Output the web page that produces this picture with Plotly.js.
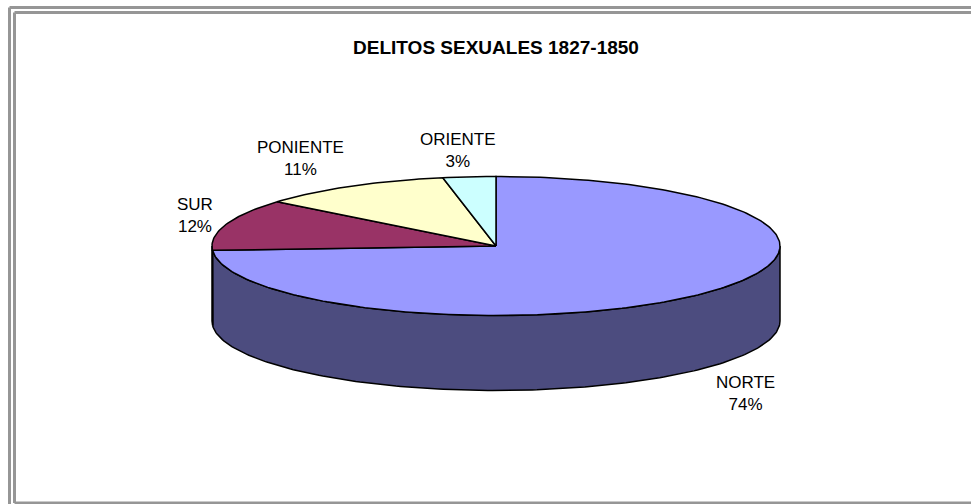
<!DOCTYPE html>
<html>
<head>
<meta charset="utf-8">
<script src="https://cdn.plot.ly/plotly-3.0.1.min.js"></script>
<style>html,body{margin:0;padding:0;background:#fff;}#chart{width:971px;height:504px;}</style>
</head>
<body>
<div id="chart"></div>
<script>
// ---- data ----
const categories = ["NORTE", "SUR", "PONIENTE", "ORIENTE"];
const values = [74, 12, 11, 3];
const chartTitle = "DELITOS SEXUALES 1827-1850";

// ---- styles / layout ----
const topColors = ["#9999FF", "#993366", "#FFFFCC", "#CCFFFF"];
const sideColors = ["#4C4C7F", "#4C1933", "#80805F", "#5F8080"];
const labelX = [745, 195, 300, 458];
const labelY = [393, 215, 158, 150];
const W = 971, H = 504;
const cx = 496, cy = 246, rx = 284, ry = 69.5, depth = 75;

const total = values.reduce((a, b) => a + b, 0);
function pt(tDeg, dy) {
  const t = tDeg * Math.PI / 180;
  return [cx + rx * Math.sin(t), cy - ry * Math.cos(t) + (dy || 0)];
}
function arc(a, b, dy) {
  const n = Math.max(2, Math.ceil(Math.abs(b - a) / 1));
  const xs = [], ys = [];
  for (let i = 0; i <= n; i++) {
    const p = pt(a + (b - a) * i / n, dy);
    xs.push(p[0]); ys.push(p[1]);
  }
  return [xs, ys];
}

const sideTraces = [], topTraces = [];
let start = 0;
values.forEach((v, i) => {
  const span = v / total * 360;
  const s = start, e = start + span;
  start = e;
  // visible front side (t between 90 and 270)
  const a = Math.max(s, 90), b = Math.min(e, 270);
  if (b > a) {
    const top = arc(a, b, 0);
    const bot = arc(b, a, depth);
    sideTraces.push({
      type: "scatter", mode: "lines", fill: "toself",
      x: top[0].concat(bot[0]).concat([top[0][0]]),
      y: top[1].concat(bot[1]).concat([top[1][0]]),
      fillcolor: sideColors[i], line: {color: "#000", width: 1.5},
      hoverinfo: "skip", showlegend: false
    });
  }
  const ar = arc(s, e, 0);
  topTraces.push({
    type: "scatter", mode: "lines", fill: "toself",
    x: [cx].concat(ar[0]).concat([cx]),
    y: [cy].concat(ar[1]).concat([cy]),
    fillcolor: topColors[i], line: {color: "#000", width: 1.5},
    hoverinfo: "text", text: categories[i], showlegend: false
  });
});

const annotations = categories.map((c, i) => ({
  x: labelX[i], y: labelY[i], xref: "x", yref: "y",
  text: c + "<br>" + Math.round(values[i] / total * 100) + "%",
  showarrow: false, xanchor: "center", yanchor: "middle",
  font: {family: "Liberation Sans, Arial, sans-serif", size: 17, color: "#000"}
}));

const frame = "#969696";
const shapes = [
  {type: "line", x0: 9.5, y0: 7.5, x1: W + 5, y1: 7.5},
  {type: "line", x0: 9.5, y0: 7.5, x1: 9.5, y1: H + 5},
  {type: "line", x0: 14.5, y0: 12.5, x1: W + 5, y1: 12.5},
  {type: "line", x0: 14.5, y0: 12.5, x1: 14.5, y1: 503},
  {type: "line", x0: 14.5, y0: 503, x1: W + 5, y1: 503}
].map(s => Object.assign(s, {xref: "x", yref: "y", line: {color: frame, width: 3}}));

const layout = {
  width: W, height: H,
  margin: {l: 0, r: 0, t: 0, b: 0},
  paper_bgcolor: "#fff", plot_bgcolor: "#fff",
  xaxis: {range: [0, W], visible: false, fixedrange: true},
  yaxis: {range: [H, 0], visible: false, fixedrange: true},
  title: {
    text: "<b>" + chartTitle + "</b>",
    x: cx / W, xanchor: "center",
    y: 1 - 47.5 / H, yanchor: "middle", yref: "container",
    font: {family: "Liberation Sans, Arial, sans-serif", size: 19, color: "#000"}
  },
  annotations: annotations,
  shapes: shapes,
  showlegend: false
};

Plotly.newPlot("chart", sideTraces.concat(topTraces), layout, {displayModeBar: false, staticPlot: true});
</script>
</body>
</html>
